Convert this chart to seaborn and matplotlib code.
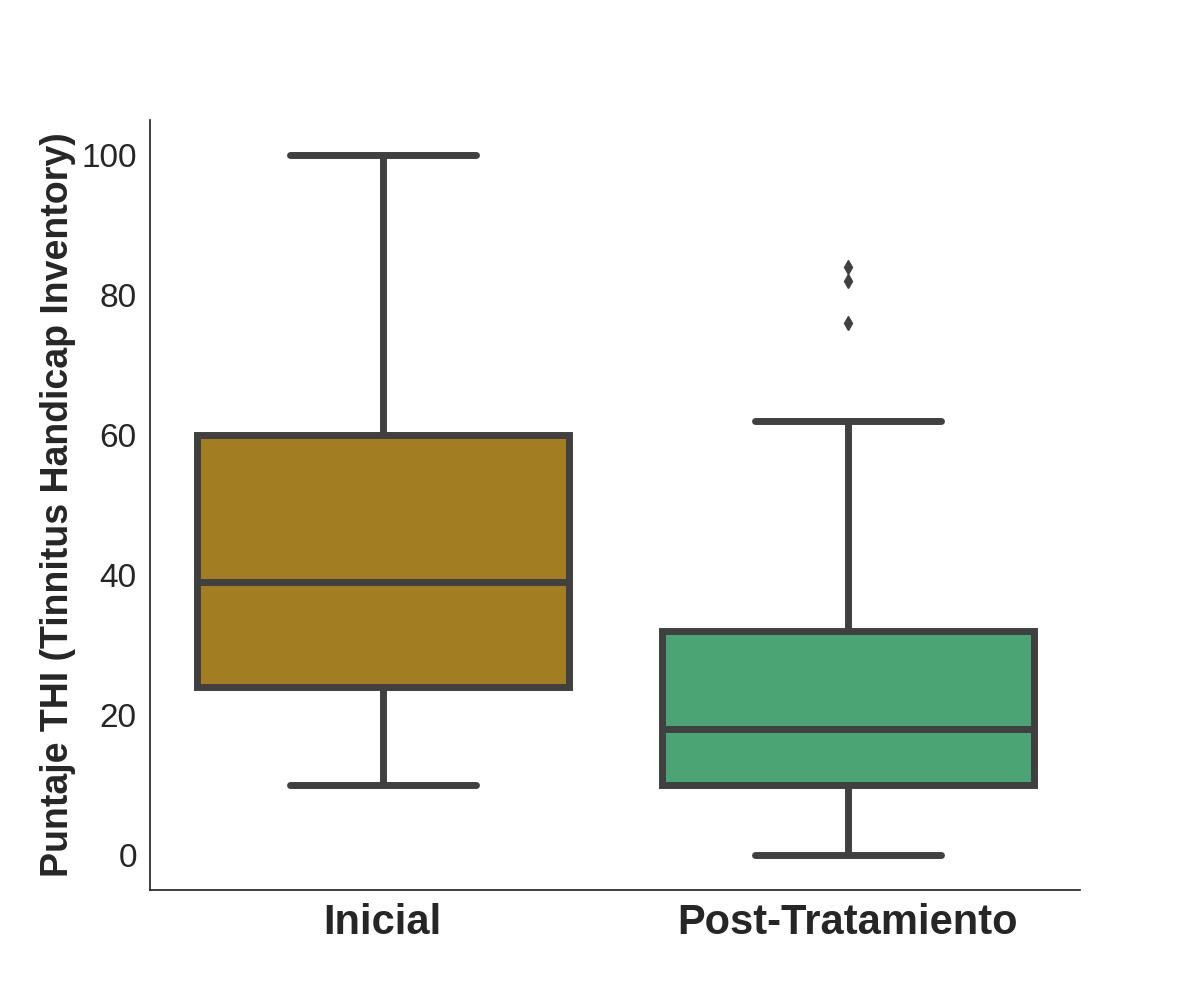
import numpy as np
import pandas as pd
import matplotlib
matplotlib.use("Agg")
import matplotlib.pyplot as plt
import seaborn as sns

# puntajes THI
inicial = [10, 24, 39, 60, 100]
post = [0, 3, 6, 8, 10, 12, 14, 16, 18, 20, 24, 28, 32, 62, 76, 82, 84]
grupos = ["Inicial", "Post-Tratamiento"]
colores = ["#B8860B", "#3CB371"]

df = pd.DataFrame({
    "grupo": [grupos[0]] * len(inicial) + [grupos[1]] * len(post),
    "thi": inicial + post,
})

sns.set_theme(style="white")
plt.rcParams['font.family'] = ['Arial', 'Liberation Sans', 'DejaVu Sans']

fig, ax = plt.subplots(figsize=(12, 10), dpi=100)
fig.subplots_adjust(left=0.125, right=0.9, top=0.88, bottom=0.11)
sns.boxplot(data=df, x="grupo", y="thi", hue="grupo", palette=colores,
            order=grupos, linewidth=5, linecolor="#404040", width=0.8,
            flierprops=dict(marker="d", markersize=7,
                            markerfacecolor="#404040", markeredgecolor="#404040"),
            legend=False, ax=ax)
sns.despine(ax=ax)
ax.set_xlabel("")
ax.set_ylabel("Puntaje THI (Tinnitus Handicap Inventory)", fontsize=27, fontweight="bold")
ax.tick_params(axis="y", labelsize=24)
ax.tick_params(axis="x", labelsize=30)
for t in ax.get_xticklabels():
    t.set_fontweight("bold")
ax.set_ylim(-5, 105)
ax.set_yticks([0, 20, 40, 60, 80, 100])
fig.savefig("out.png")
